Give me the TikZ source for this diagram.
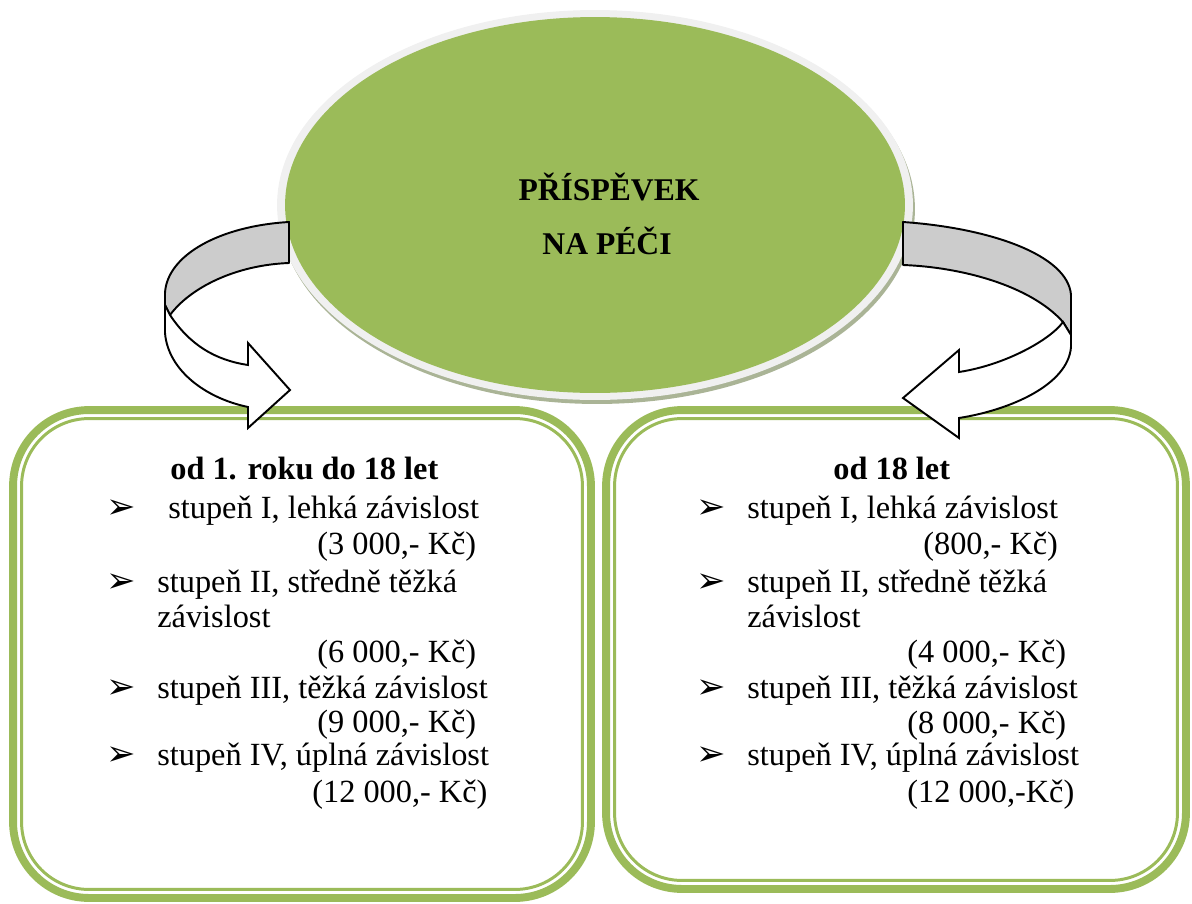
\documentclass[tikz,border=0pt]{standalone}
\usepackage{fontspec}
\setmainfont{Liberation Serif}
\newfontfamily\arrowfont{DejaVu Sans}
\usepackage{tikz}
\usetikzlibrary{shapes.geometric, positioning}
\definecolor{olivegreen}{HTML}{9BBB59}
\definecolor{rimgray}{HTML}{F0F0F0}
\definecolor{shadowgray}{RGB}{170,180,150}
\definecolor{bandgray}{HTML}{CCCCCC}

\begin{document}
\begin{tikzpicture}[
    x=0.02cm, y=-0.02cm,
    frame/.style={draw=olivegreen, line width=4.5pt, rounded corners=1.52cm, inner sep=0pt},
    innerframe/.style={draw=olivegreen, line width=1.7pt, rounded corners=1.35cm, inner sep=0pt},
    oval/.style={ellipse, inner sep=0pt, fill=#1},
    band/.style={draw, line width=1.1pt, fill=bandgray, line join=round},
    face/.style={draw, line width=1.1pt, fill=white, line join=miter},
    title/.style={anchor=base, inner sep=0pt, font=\fontsize{18}{22}\selectfont\bfseries},
    agehead/.style={anchor=base west, inner sep=0pt, font=\fontsize{18.4}{22}\selectfont\bfseries},
    item/.style={anchor=base west, inner sep=0pt, font=\fontsize{18.4}{22}\selectfont},
    bullet/.style={anchor=base west, inner sep=0pt, font=\fontsize{20}{22}\selectfont\arrowfont}
]
\useasboundingbox (0,0) rectangle (1192,903);

% Frames
\node[frame, minimum width=11.56cm, minimum height=9.76cm] (leftframe) at (302,654) {};
\node[innerframe, minimum width=11.22cm, minimum height=9.42cm] (leftinner) at (leftframe.center) {};
\node[frame, minimum width=11.6cm, minimum height=9.58cm] (rightframe) at (896,649.5) {};
\node[innerframe, minimum width=11.26cm, minimum height=9.24cm] (rightinner) at (rightframe.center) {};

% Oval
\node[oval=shadowgray, minimum width=12.72cm, minimum height=7.8cm] (shadow) at (597,209) {};
\node[oval=rimgray, minimum width=12.72cm, minimum height=7.8cm] (rim) at (595,205) {};
\node[oval=olivegreen, minimum width=12.4cm, minimum height=7.52cm] (care) at (595,205) {};
\node[title] (title1) at (609,200) {PŘÍSPĚVEK};
\node[title] (title2) at (607,254) {NA PÉČI};

% Curved arrows
\coordinate (ltail) at (289,222);
\coordinate (ltip) at (290,390);
\coordinate (rtail) at (903,222);
\coordinate (rtip) at (903,398);
\draw[band] (ltail) .. controls (220,226) and (167,255) .. (165,293) -- (165,305) -- (170,315) .. controls (190,288) and (235,265) .. (289,263) -- cycle;
\draw[face] (170,315) .. controls (190,345) and (215,360) .. (248,365) -- (248,343) -- (ltip) -- (248,428) -- (248,407) .. controls (205,398) and (168,370) .. (165,333) -- (165,305) -- cycle;
\draw[band] (rtail) .. controls (990,228) and (1068,255) .. (1071,295) -- (1071,335) -- (1063,322) .. controls (1030,285) and (960,267) .. (903,265) -- cycle;
\draw[face] (1063,322) .. controls (1050,340) and (1005,365) .. (959,372) -- (959,350) -- (rtip) -- (959,438) -- (959,418) .. controls (1010,410) and (1068,385) .. (1071,347) -- (1071,335) -- cycle;

% Left box
\node[agehead] (lhead) at (170,479) {od 1. roku do 18 let};
\node[bullet] (lb1) at (106,518) {➢};
\node[item] (l1) at (168,518) {stupeň I, lehká závislost};
\node[item] (l1a) at (317,554) {(3 000,- Kč)};
\node[bullet] (lb2) at (106,592) {➢};
\node[item] (l2) at (157,592) {stupeň II, středně těžká};
\node[item] (l2b) at (157,627) {závislost};
\node[item] (l2a) at (317,662) {(6 000,- Kč)};
\node[bullet] (lb3) at (106,698) {➢};
\node[item] (l3) at (157,698) {stupeň III, těžká závislost};
\node[item] (l3a) at (317,732) {(9 000,- Kč)};
\node[bullet] (lb4) at (106,765) {➢};
\node[item] (l4) at (157,765) {stupeň IV, úplná závislost};
\node[item] (l4a) at (312,802) {(12 000,- Kč)};

% Right box
\node[agehead] (rhead) at (833,479) {od 18 let};
\node[bullet] (rb1) at (696,518) {➢};
\node[item] (r1) at (747,518) {stupeň I, lehká závislost};
\node[item] (r1a) at (923,554) {(800,- Kč)};
\node[bullet] (rb2) at (696,592) {➢};
\node[item] (r2) at (747,592) {stupeň II, středně těžká};
\node[item] (r2b) at (747,627) {závislost};
\node[item] (r2a) at (907,662) {(4 000,- Kč)};
\node[bullet] (rb3) at (696,698) {➢};
\node[item] (r3) at (747,698) {stupeň III, těžká závislost};
\node[item] (r3a) at (907,733) {(8 000,- Kč)};
\node[bullet] (rb4) at (696,765) {➢};
\node[item] (r4) at (747,765) {stupeň IV, úplná závislost};
\node[item] (r4a) at (907,802) {(12 000,-Kč)};
\end{tikzpicture}
\end{document}
